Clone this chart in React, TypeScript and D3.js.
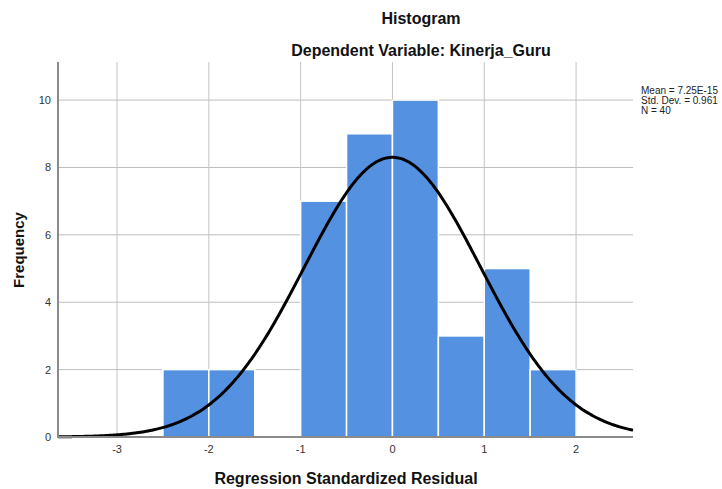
import React from "react";
import * as d3 from "d3";

const binStarts = [-2.5, -2.0, -1.0, -0.5, 0.0, 0.5, 1.0, 1.5];
const binWidth = 0.5;
const counts = [2, 2, 7, 9, 10, 3, 5, 2];
const xTicks = [-3, -2, -1, 0, 1, 2];
const yTicks = [0, 2, 4, 6, 8, 10];
const statMean = 7.25e-15;
const statSd = 0.961;
const statN = 40;
const legendLines = ["Mean = 7.25E-15", "Std. Dev. = 0.961", "N = 40"];

const W = 722;
const H = 489;
const left = 58;
const right = 633;
const top = 62;
const bottom = 437;

export default function App() {
  const x = d3.scaleLinear().domain([-3.643, 2.62]).range([left, right]);
  const y = d3.scaleLinear().domain([0, 11.13]).range([bottom, top]);
  const font = "'Liberation Sans', Arial, sans-serif";

  const pdf = (v: number) =>
    (statN * binWidth) / (statSd * Math.sqrt(2 * Math.PI)) *
    Math.exp(-0.5 * ((v - statMean) / statSd) ** 2);
  const xs = d3.range(0, 301).map((i) => -3.643 + (i / 300) * (2.62 + 3.643));
  const line = d3
    .line<number>()
    .x((d) => x(d))
    .y((d) => y(pdf(d)))
    .curve(d3.curveBasis);

  return (
    <svg
      width={W}
      height={H}
      style={{ position: "absolute", left: 0, top: 0, background: "#fff" }}
      fontFamily={font}
    >
      <rect x={0} y={0} width={W} height={H} fill="#fff" />
      {/* grid */}
      {yTicks.map((t) => (
        <line key={"gy" + t} x1={left} x2={right} y1={y(t)} y2={y(t)} stroke="#bdbdbd" strokeWidth={1} />
      ))}
      {xTicks.map((t) => (
        <line key={"gx" + t} x1={x(t)} x2={x(t)} y1={top} y2={bottom} stroke="#c4c4c4" strokeWidth={1} />
      ))}
      {/* bars */}
      {binStarts.map((b, i) => (
        <rect
          key={"b" + i}
          x={x(b)}
          y={y(counts[i])}
          width={x(b + binWidth) - x(b)}
          height={y(0) - y(counts[i])}
          fill="#5591e1"
          stroke="#ffffff"
          strokeWidth={1.5}
        />
      ))}
      {/* curve */}
      <path d={line(xs) || ""} fill="none" stroke="#000" strokeWidth={3} />
      {/* axes */}
      <line x1={left} x2={left} y1={top} y2={bottom + 1} stroke="#8a8a8a" strokeWidth={2} />
      <line x1={left} x2={right} y1={bottom} y2={bottom} stroke="#8a8a8a" strokeWidth={2} />
      {/* tick labels */}
      {yTicks.map((t) => (
        <text key={"ty" + t} x={left - 7} y={y(t) + 4} fontSize={11} fill="#333" textAnchor="end">
          {t}
        </text>
      ))}
      {xTicks.map((t) => (
        <text key={"tx" + t} x={x(t)} y={bottom + 16} fontSize={11} fill="#333" textAnchor="middle">
          {t}
        </text>
      ))}
      {/* titles */}
      <text x={421} y={24} fontSize={16} fontWeight="bold" textAnchor="middle" fill="#111">
        Histogram
      </text>
      <text x={421} y={56} fontSize={16} fontWeight="bold" textAnchor="middle" fill="#111">
        Dependent Variable: Kinerja_Guru
      </text>
      <text x={346} y={484} fontSize={16} fontWeight="bold" textAnchor="middle" fill="#111">
        Regression Standardized Residual
      </text>
      <text
        x={0}
        y={0}
        transform={`translate(24, 250) rotate(-90)`}
        fontSize={15}
        fontWeight="bold"
        textAnchor="middle"
        fill="#111"
      >
        Frequency
      </text>
      {/* legend */}
      {legendLines.map((s, i) => (
        <text key={"l" + i} x={641} y={94 + i * 10} fontSize={10} fill="#222">
          {s}
        </text>
      ))}
    </svg>
  );
}
